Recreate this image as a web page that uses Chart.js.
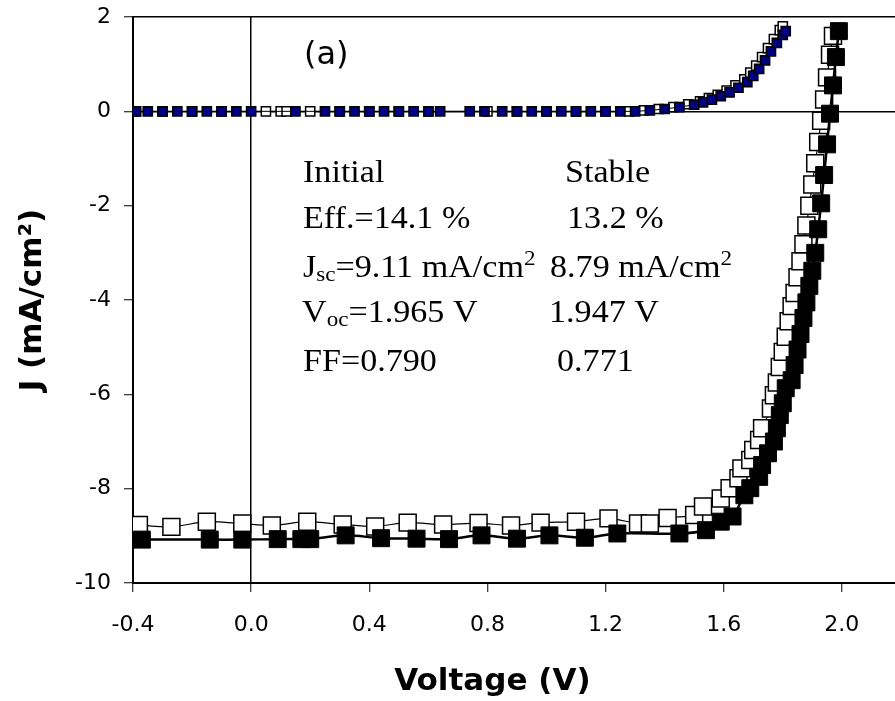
<!DOCTYPE html>
<html>
<head>
<meta charset="utf-8">
<script src="https://cdn.jsdelivr.net/npm/chart.js@4.4.1/dist/chart.umd.min.js"></script>
<style>
  body { margin: 0; background: #fff; }
  canvas { display: block; }
</style>
</head>
<body>
<canvas id="myChart" width="895" height="701"></canvas>
<script>
const ctx = document.getElementById("myChart");

// ticks
const xTicks = [-0.4, 0.0, 0.4, 0.8, 1.2, 1.6, 2.0];
const yTicks = [2, 0, -2, -4, -6, -8, -10];

// initial, illuminated (filled black squares)
const vLuzInicial = [-0.37, -0.14, -0.03, 0.09, 0.17, 0.20, 0.32, 0.44, 0.56, 0.67, 0.78, 0.90, 1.01, 1.13, 1.24,
  1.45, 1.54, 1.59, 1.63, 1.67, 1.69, 1.72, 1.73, 1.75, 1.77, 1.78, 1.79, 1.80, 1.81, 1.83, 1.84,
  1.85, 1.86, 1.87, 1.88, 1.89, 1.90, 1.91, 1.92, 1.93, 1.94, 1.95, 1.96, 1.97, 1.98, 1.99];
const jLuzInicial = [-9.08, -9.08, -9.08, -9.07, -9.07, -9.07, -8.99, -9.05, -9.06, -9.07, -8.99, -9.06, -8.99, -9.04, -8.95,
  -8.95, -8.88, -8.70, -8.59, -8.14, -7.99, -7.75, -7.50, -7.25, -7.00, -6.72, -6.44, -6.19, -5.87, -5.70, -5.38,
  -5.05, -4.72, -4.38, -4.05, -3.70, -3.38, -3.00, -2.50, -1.95, -1.35, -0.70, -0.05, 0.55, 1.15, 1.70];

// stable, illuminated (open squares)
const vLuzEstable = [-0.38, -0.27, -0.15, -0.03, 0.07, 0.19, 0.31, 0.42, 0.53, 0.65, 0.77, 0.88, 0.98, 1.10, 1.21,
  1.31, 1.35, 1.41, 1.50, 1.53, 1.59, 1.62, 1.65, 1.66, 1.69, 1.70, 1.72, 1.73,
  1.76, 1.77, 1.78, 1.79, 1.80, 1.81, 1.82, 1.83, 1.84, 1.85, 1.86, 1.87, 1.88, 1.89, 1.90,
  1.91, 1.92, 1.93, 1.94, 1.95, 1.96, 1.97];
const jLuzEstable = [-8.77, -8.81, -8.70, -8.74, -8.78, -8.70, -8.76, -8.80, -8.72, -8.76, -8.73, -8.78, -8.72, -8.70, -8.63,
  -8.74, -8.74, -8.62, -8.56, -8.38, -8.21, -7.99, -7.78, -7.57, -7.39, -7.18, -6.97, -6.72,
  -6.30, -6.02, -5.75, -5.42, -5.10, -4.78, -4.45, -4.13, -3.85, -3.52, -3.18, -2.82, -2.42, -2.00, -1.55,
  -1.10, -0.65, -0.20, 0.25, 0.72, 1.20, 1.60];

// initial, dark (navy squares)
const vOscInicial = [-0.39, -0.35, -0.30, -0.25, -0.20, -0.15, -0.10, -0.05, 0.00,
  0.15, 0.25, 0.30, 0.35, 0.40, 0.45, 0.50, 0.55, 0.60, 0.64,
  0.74, 0.79, 0.85, 0.90, 0.95, 1.00, 1.05, 1.10, 1.15, 1.20, 1.25, 1.30,
  1.35, 1.40, 1.45, 1.50, 1.53, 1.56, 1.59, 1.62, 1.65, 1.68, 1.70, 1.72, 1.74, 1.76, 1.78, 1.80, 1.81];
const jOscInicial = [0, 0, 0, 0, 0, 0, 0, 0, 0,
  0, 0, 0, 0, 0, 0, 0, 0, 0, 0,
  0, 0, 0, 0, 0, 0, 0, 0, 0, 0, 0, 0,
  0.02, 0.05, 0.09, 0.14, 0.19, 0.25, 0.32, 0.40, 0.50, 0.62, 0.75, 0.90, 1.08, 1.27, 1.45, 1.62, 1.70];

// stable, dark (open small squares)
const vOscEstable = [-0.39, -0.30, -0.20, -0.10, 0.05, 0.10, 0.12, 0.20, 0.30, 0.40, 0.50, 0.60, 0.80, 0.90, 1.00, 1.10, 1.20, 1.28,
  1.33, 1.38, 1.43, 1.48, 1.52, 1.55, 1.58, 1.61, 1.64, 1.67, 1.69, 1.71, 1.73, 1.75, 1.77, 1.79, 1.80];
const jOscEstable = [0, 0, 0, 0, 0, 0, 0, 0, 0, 0, 0, 0, 0, 0, 0, 0, 0, 0,
  0.02, 0.05, 0.09, 0.15, 0.21, 0.28, 0.35, 0.44, 0.55, 0.68, 0.82, 0.97, 1.15, 1.34, 1.53, 1.72, 1.80];

const puntos = (vs, js) => vs.map((v, i) => ({ x: v, y: js[i] }));

const serif = '"Liberation Serif", "Times New Roman", serif';
const sans = '"DejaVu Sans", Arial, sans-serif';

// texto dentro del grafico (un poco ensanchado, como en la figura)
const textos = {
  id: "textos",
  afterDraw(chart) {
    const c = chart.ctx;
    const ancho = 1.1;
    c.save();
    c.fillStyle = "#000";
    c.textBaseline = "alphabetic";
    c.textAlign = "left";
    const linea = (partes, x, y) => {
      c.save();
      c.translate(x, y);
      c.scale(ancho, 1);
      let px = 0;
      partes.forEach((p) => {
        c.font = p[2] || "31px " + serif;
        c.fillText(p[0], px, p[1] || 0);
        px += c.measureText(p[0]).width;
      });
      c.restore();
    };
    const sub = "21px " + serif;
    c.font = "32px " + sans;
    c.fillText("(a)", 304, 64);
    linea([["Initial"]], 303, 182);
    linea([["Stable"]], 565, 182);
    linea([["Eff.=14.1 %"]], 303, 228);
    linea([["13.2 %"]], 567, 228);
    linea([["J"], ["sc", 4, sub], ["=9.11 mA/cm"], ["2", -12, sub]], 303, 277);
    linea([["8.79 mA/cm"], ["2", -12, sub]], 550, 277);
    linea([["V"], ["oc", 4, sub], ["=1.965 V"]], 302, 322);
    linea([["1.947 V"]], 549, 322);
    linea([["FF=0.790"]], 303, 371);
    linea([["0.771"]], 557, 371);
    c.restore();
  },
};

const gridCero = {
  color: (c) => (c.tick && c.tick.value === 0 ? "#000" : "rgba(0,0,0,0)"),
  lineWidth: 1.5,
  tickColor: "#000",
  tickWidth: 1,
  tickLength: 9,
};

new Chart(ctx, {
  type: "scatter",
  data: {
    datasets: [
      {
        label: "Initial light",
        data: puntos(vLuzInicial, jLuzInicial),
        showLine: true,
        tension: 0.3,
        borderColor: "#000",
        borderWidth: 2.5,
        pointStyle: "rect",
        pointRadius: 12,
        pointBackgroundColor: "#000",
        pointBorderColor: "#000",
        pointBorderWidth: 1,
      },
      {
        label: "Stable light",
        data: puntos(vLuzEstable, jLuzEstable),
        showLine: true,
        tension: 0.3,
        borderColor: "#000",
        borderWidth: 1.2,
        pointStyle: "rect",
        pointRadius: 12,
        pointBackgroundColor: "#fff",
        pointBorderColor: "#000",
        pointBorderWidth: 1.5,
      },
      {
        label: "Initial dark",
        data: puntos(vOscInicial, jOscInicial),
        showLine: true,
        borderColor: "#000",
        borderWidth: 1,
        pointStyle: "rect",
        pointRadius: 6.5,
        pointBackgroundColor: "#000080",
        pointBorderColor: "#000",
        pointBorderWidth: 1.5,
      },
      {
        label: "Stable dark",
        data: puntos(vOscEstable, jOscEstable),
        showLine: true,
        borderColor: "#000",
        borderWidth: 1,
        pointStyle: "rect",
        pointRadius: 6.5,
        pointBackgroundColor: "#fff",
        pointBorderColor: "#000",
        pointBorderWidth: 1.5,
      },
    ],
  },
  options: {
    responsive: false,
    animation: false,
    layout: { autoPadding: false, padding: { top: 17, left: 0, right: 0, bottom: 0 } },
    plugins: { legend: { display: false }, tooltip: { enabled: false } },
    scales: {
      x: {
        type: "linear",
        position: "bottom",
        min: -0.4,
        max: 2.18,
        afterBuildTicks: (scale) => {
          scale.ticks = xTicks.map((v) => ({ value: v }));
        },
        afterFit: (scale) => {
          scale.height = 118;
        },
        ticks: {
          callback: (v) => v.toFixed(1),
          autoSkip: false,
          maxRotation: 0,
          color: "#000",
          padding: 20,
          font: { family: sans, size: 22 },
        },
        grid: gridCero,
        border: { color: "#000", width: 2 },
        title: {
          display: true,
          text: "Voltage (V)    ",
          color: "#000",
          font: { family: sans, size: 31, weight: "bold" },
          padding: { top: 0, bottom: 0 },
        },
      },
      xTop: {
        type: "linear",
        position: "top",
        min: 0,
        max: 1,
        ticks: { display: false },
        grid: { drawOnChartArea: false, drawTicks: false },
        border: { color: "#000", width: 1.5 },
        afterFit: (scale) => {
          scale.height = 0;
        },
      },
      y: {
        type: "linear",
        min: -10,
        max: 2,
        afterBuildTicks: (scale) => {
          scale.ticks = yTicks.map((v) => ({ value: v }));
        },
        afterFit: (scale) => {
          scale.width = 133;
          scale.paddingTop = 0;
          scale.paddingBottom = 0;
        },
        ticks: {
          color: "#000",
          padding: 13,
          font: { family: sans, size: 22 },
        },
        grid: gridCero,
        border: { color: "#000", width: 2 },
        title: {
          display: true,
          text: "J (mA/cm²)",
          color: "#000",
          font: { family: sans, size: 31, weight: "bold" },
          padding: { top: 14, bottom: 4 },
        },
      },
    },
  },
  plugins: [textos],
});
</script>
</body>
</html>
